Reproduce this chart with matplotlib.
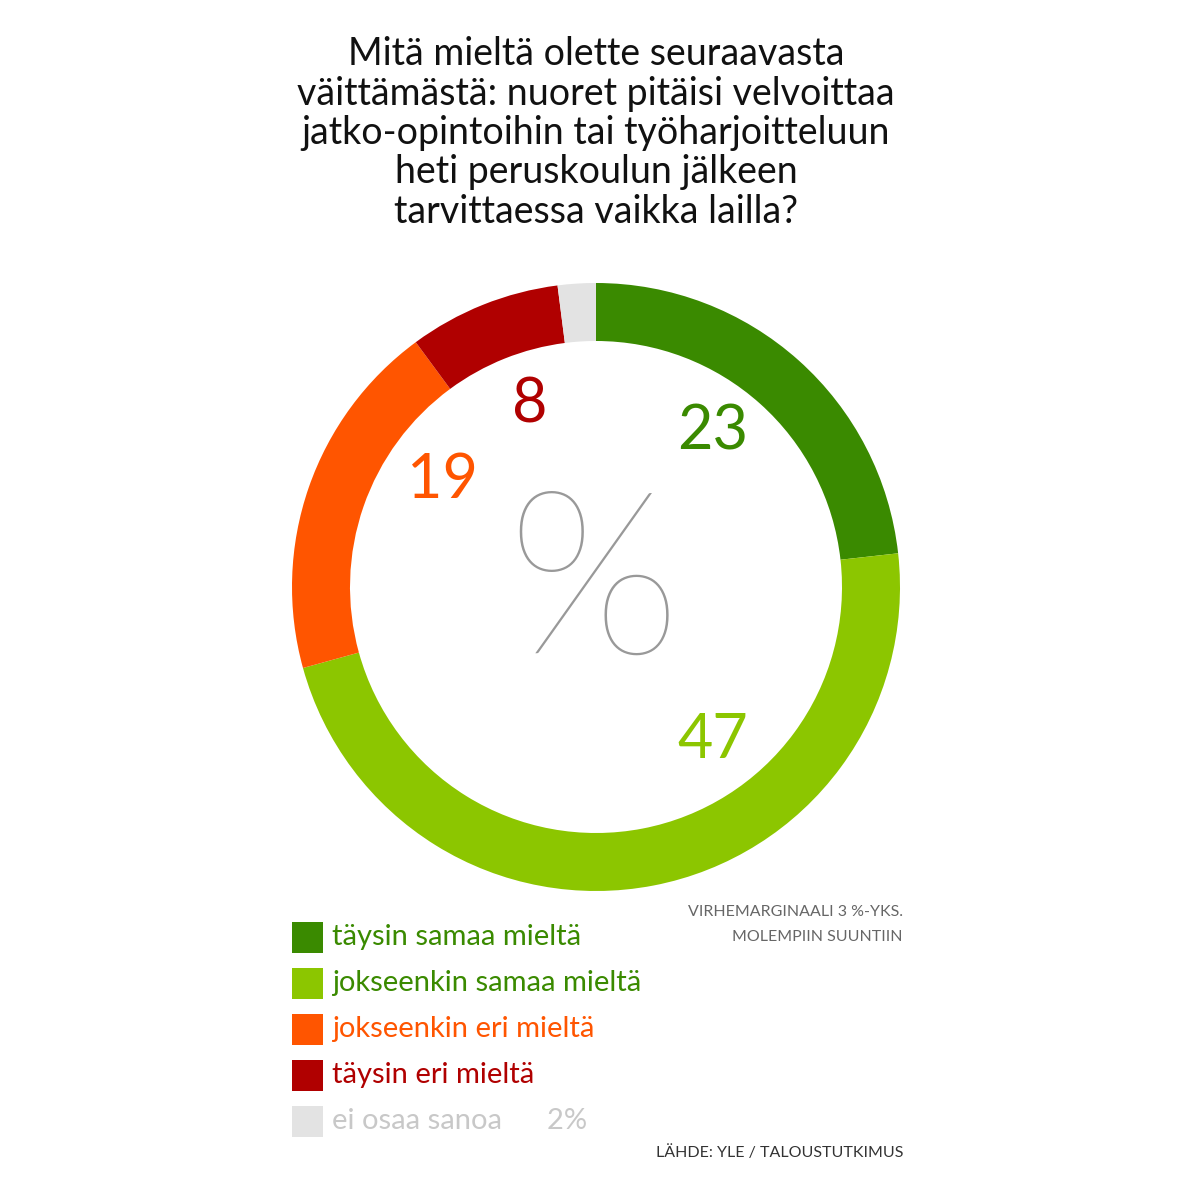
import matplotlib
matplotlib.use("Agg")
import matplotlib.pyplot as plt
from matplotlib.patches import Rectangle

categories = ["täysin samaa mieltä", "jokseenkin samaa mieltä", "jokseenkin eri mieltä", "täysin eri mieltä", "ei osaa sanoa"]
values = [23, 47, 19, 8, 2]
colors = ["#3a8a00", "#8cc600", "#ff5500", "#b00000", "#e3e3e3"]
text_colors = ["#3a8a00", "#3a8a00", "#ff5500", "#b00000", "#c8c8c8"]
title = "Mitä mieltä olette seuraavasta\nväittämästä: nuoret pitäisi velvoittaa\njatko-opintoihin tai työharjoitteluun\nheti peruskoulun jälkeen\ntarvittaessa vaikka lailla?"

W, H = 1199, 1179
fig = plt.figure(figsize=(W/100, H/100), dpi=100)
ax = fig.add_axes([0, 0, 1, 1])
ax.set_xlim(0, W); ax.set_ylim(0, H); ax.axis("off")
font = "Lato"

cx, cy = 596, H - 587
ax.pie(values, colors=colors, startangle=90, counterclock=False, radius=304,
       center=(cx, cy), wedgeprops=dict(width=58, linewidth=0), frame=True)
ax.set_xlim(0, W); ax.set_ylim(0, H); ax.set_aspect("equal"); ax.axis("off")

label_pos = [(713, 432), (713, 740), (442, 480), (530, 405)]
for v, c, (x, y) in zip(values[:4], colors[:4], label_pos):
    ax.text(x, H - y, str(v), color=c, fontsize=44, ha="center", va="center", family=font)

ax.text(cx - 3, H - 592, "%", color="#999999", fontsize=165, ha="center", va="center",
        family=font, fontweight="light")

ax.text(596, H - 133, title, fontsize=27, ha="center", va="center", family=font,
        linespacing=1.12, color="#111111")

for i, (cat, c, tc) in enumerate(zip(categories, colors, text_colors)):
    y = H - (937 + 46 * i)
    ax.add_patch(Rectangle((292, y - 16), 31, 31, color=c, lw=0))
    lab = cat + "      2%" if i == 4 else cat
    ax.text(332, y, lab, color=tc, fontsize=21, va="center", family=font)

ax.text(903, H - 912, "VIRHEMARGINAALI 3 %-YKS.", fontsize=11.5, ha="right", va="center", color="#666666", family=font)
ax.text(903, H - 937, "MOLEMPIIN SUUNTIIN", fontsize=11.5, ha="right", va="center", color="#666666", family=font)
ax.text(903, H - 1153, "LÄHDE: YLE / TALOUSTUTKIMUS", fontsize=11.5, ha="right", va="center", color="#333333", family=font)

fig.savefig("out.png", dpi=100, facecolor="white")
